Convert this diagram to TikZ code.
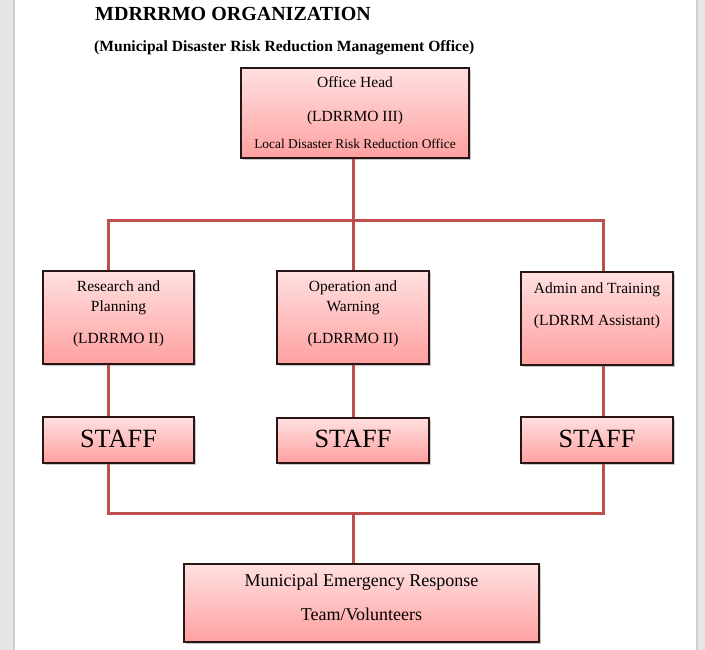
\documentclass[tikz,border=0pt]{standalone}
\usepackage{fontspec}
\setmainfont{Liberation Serif}
\usetikzlibrary{shadows}
\definecolor{conn}{RGB}{190,78,75}
\definecolor{boxtop}{RGB}{255,224,224}
\definecolor{boxbot}{RGB}{255,160,160}
\definecolor{boxline}{RGB}{40,22,22}
\definecolor{pagegray}{RGB}{230,230,230}
\definecolor{pageedge}{RGB}{205,205,205}
\begin{document}
\begin{tikzpicture}[x=1pt,y=-1pt,
  orgbox/.style={rectangle, draw=boxline, line width=1.1pt, top color=boxtop, bottom color=boxbot, inner sep=0pt,
    drop shadow={shadow xshift=1.5pt, shadow yshift=-1.8pt, opacity=0.3, fill=black!70}},
  conline/.style={draw=conn, line width=3pt},
  txt/.style={anchor=base, inner sep=0pt, font=\fontsize{15.5}{18}\selectfont},
  smalltxt/.style={anchor=base, inner sep=0pt, font=\fontsize{13.4}{16}\selectfont},
  bigtxt/.style={anchor=base, inner sep=0pt, font=\fontsize{26.3}{30}\selectfont},
  midtxt/.style={anchor=base, inner sep=0pt, font=\fontsize{18}{21}\selectfont},
]
\useasboundingbox (0,0) rectangle (705,650);
\fill[white] (0,0) rectangle (705,650);
% page edges
\fill[pagegray] (0,0) rectangle (13,650);
\fill[pageedge] (13,0) rectangle (15,650);
\fill[pageedge] (696,0) rectangle (698,650);
\fill[pagegray] (698,0) rectangle (705,650);

% titles
\node[anchor=base west, inner sep=0pt, font=\bfseries\fontsize{20}{23}\selectfont] (title) at (95,20.5) {MDRRRMO ORGANIZATION};
\node[anchor=base west, inner sep=0pt, font=\bfseries\fontsize{15.6}{18}\selectfont] (subtitle) at (94,52) {(Municipal Disaster Risk Reduction Management Office)};

% boxes
\node[orgbox, minimum width=228pt, minimum height=90pt] (oh) at (355,113) {};
\node[orgbox, minimum width=151pt, minimum height=93pt] (rp) at (118.5,317.5) {};
\node[orgbox, minimum width=152pt, minimum height=93pt] (ow) at (353,317.5) {};
\node[orgbox, minimum width=152pt, minimum height=93pt] (at) at (597,318.5) {};
\node[orgbox, minimum width=151pt, minimum height=46pt] (rs) at (118.5,440) {};
\node[orgbox, minimum width=152pt, minimum height=45pt] (os) at (353,440.5) {};
\node[orgbox, minimum width=152pt, minimum height=46pt] (as) at (597,440) {};
\node[orgbox, minimum width=355pt, minimum height=78pt] (mr) at (361.5,603) {};

% box texts
\node[txt] (oh1) at (355,88) {Office Head};
\node[txt] (oh2) at (355,122) {(LDRRMO III)};
\node[smalltxt] (oh3) at (355,149) {Local Disaster Risk Reduction Office};

\node[txt] (rp1) at (118.5,291) {Research and};
\node[txt] (rp2) at (118.5,312) {Planning};
\node[txt] (rp3) at (118.5,343) {(LDRRMO II)};

\node[txt] (ow1) at (353,291) {Operation and};
\node[txt] (ow2) at (353,312) {Warning};
\node[txt] (ow3) at (353,343) {(LDRRMO II)};

\node[txt] (at1) at (597,293) {Admin and Training};
\node[txt] (at2) at (597,325) {(LDRRM Assistant)};

\node[bigtxt] (rs1) at (118.5,447) {STAFF};
\node[bigtxt] (os1) at (353,447.5) {STAFF};
\node[bigtxt] (as1) at (597,447) {STAFF};

\node[midtxt] (mr1) at (361.5,586) {Municipal Emergency Response};
\node[midtxt] (mr2) at (361.5,620) {Team/Volunteers};

% bus coordinates
\coordinate (tl) at (108,221);
\coordinate (tr) at (603,221);
\coordinate (bl) at (108,513);
\coordinate (br) at (603,513);
\coordinate (bm) at (353,513);

% connectors
\draw[conline] (oh.south -| ow.north) -- (ow.north);
\draw[conline] (rp.north -| tl) -- (tl) -- (tr) -- (at.north -| tr);
\draw[conline] (rp.south -| tl) -- (rs.north -| tl);
\draw[conline] (ow.south) -- (os.north);
\draw[conline] (at.south -| tr) -- (as.north -| tr);
\draw[conline] (rs.south -| bl) -- (bl) -- (br) -- (as.south -| br);
\draw[conline] (bm) -- (mr.north -| bm);
\end{tikzpicture}
\end{document}
